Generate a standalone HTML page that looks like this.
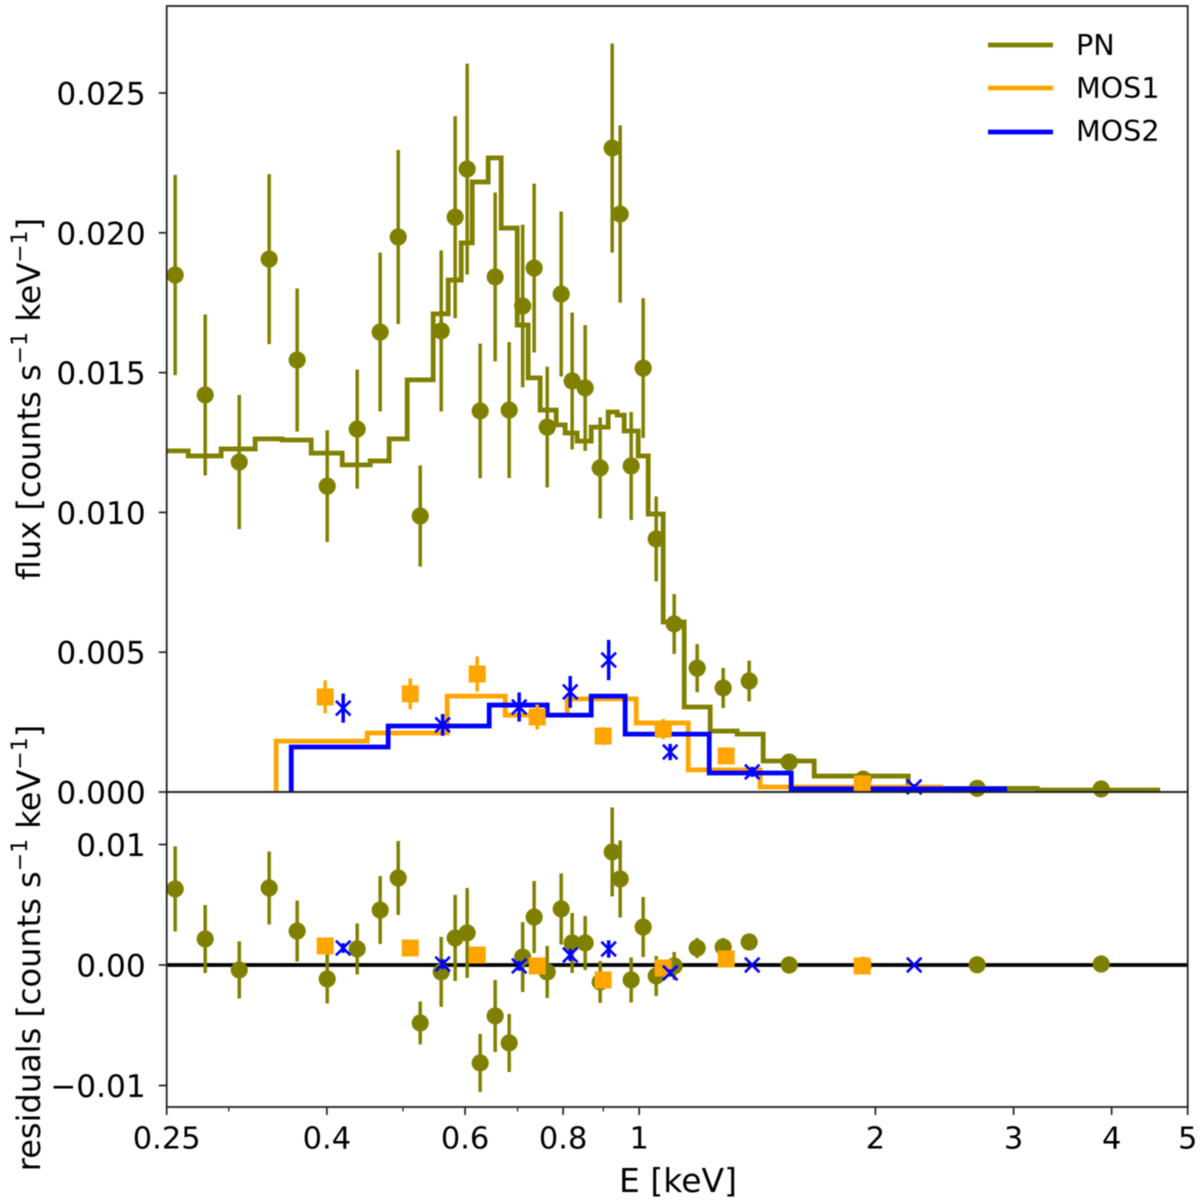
<!DOCTYPE html>
<html lang="en">
<head>
<meta charset="utf-8">
<title>Flux and residuals spectrum</title>
<style>
html,body{margin:0;padding:0;background:#fff;}
body{width:1200px;height:1202px;overflow:hidden;}
svg{display:block;filter:blur(0.4px);}
text{font-family:"DejaVu Sans","Liberation Sans",sans-serif;fill:#000;}
</style>
</head>
<body>
<svg id="chart" width="1200" height="1202" viewBox="0 0 1200 1202" xmlns="http://www.w3.org/2000/svg">
  <g id="layer-marks"></g>
  <g id="layer-axes"></g>
  <text x="678" y="1192" font-size="33" text-anchor="middle">E [keV]</text>
  <text transform="translate(40,399) rotate(-90)" font-size="32" text-anchor="middle">flux [counts s<tspan dy="-13" font-size="22">−1</tspan><tspan dy="13"> keV</tspan><tspan dy="-13" font-size="22">−1</tspan><tspan dy="13">]</tspan></text>
  <text transform="translate(40,948) rotate(-90)" font-size="32" text-anchor="middle">residuals [counts s<tspan dy="-13" font-size="22">−1</tspan><tspan dy="13"> keV</tspan><tspan dy="-13" font-size="22">−1</tspan><tspan dy="13">]</tspan></text>
  <g>
    <line x1="988" x2="1053" y1="45" y2="45" stroke="#808000" stroke-width="4.8"/>
    <text x="1076" y="55" font-size="28.6">PN</text>
    <line x1="988" x2="1053" y1="88" y2="88" stroke="#ffa500" stroke-width="4.8"/>
    <text x="1076" y="98" font-size="28.6">MOS1</text>
    <line x1="988" x2="1053" y1="132" y2="132" stroke="#0000ff" stroke-width="4.8"/>
    <text x="1076" y="141" font-size="28.6">MOS2</text>
  </g>
</svg>
<script>
// ---- PN data ----
const pnEnergy = [0.2563,0.2799,0.3093,0.3377,0.3666,0.4004,0.4372,0.4677,0.4931,0.5260,0.5594,0.5828,0.6037,0.6272,0.6554,0.6829,0.7105,0.7348,0.7635,0.7955,0.8215,0.8535,0.8919,0.9239,0.9458,0.9768,1.0118,1.0512,1.1082,1.1855,1.2795,1.3809,1.5529,1.9294,2.696,3.879];
const pnFlux = [0.01849,0.01420,0.01180,0.01906,0.01545,0.01094,0.01298,0.01645,0.01985,0.00987,0.01649,0.02056,0.02228,0.01363,0.01842,0.01366,0.01738,0.01874,0.01305,0.01781,0.01470,0.01445,0.01159,0.02303,0.02067,0.01166,0.01516,0.00905,0.00601,0.00443,0.00372,0.00397,0.00107,0.00046,0.00013,0.00011];
const pnFluxErr = [0.00358,0.00288,0.00240,0.00304,0.00256,0.00200,0.00213,0.00284,0.00311,0.00181,0.00288,0.00361,0.00377,0.00241,0.00302,0.00243,0.00291,0.00302,0.00216,0.00295,0.00245,0.00225,0.00181,0.00374,0.00317,0.00193,0.00250,0.00152,0.00107,0.00086,0.00072,0.00073,0.00029,0.00018,0.00004,0.00003];
const pnRes = [0.00631,0.00216,-0.00041,0.00639,0.00282,-0.00116,0.00133,0.00456,0.00722,-0.00481,-0.00058,0.00224,0.00266,-0.00813,-0.00423,-0.00647,0.00066,0.00398,-0.00058,0.00465,0.00183,0.00183,-0.00141,0.00938,0.00714,-0.00124,0.00315,-0.00091,-0.00008,0.00141,0.00149,0.00191,0.00000,-0.00004,0.00002,0.00008];
const pnResErr = [0.00353,0.00282,0.00237,0.00303,0.00253,0.00203,0.00212,0.00282,0.00307,0.00178,0.00290,0.00357,0.00373,0.00241,0.00299,0.00241,0.00290,0.00299,0.00216,0.00295,0.00249,0.00224,0.00174,0.00369,0.00320,0.00187,0.00249,0.00166,0.00116,0.00083,0.00075,0.00066,0.00008,0.00004,0.00002,0.00002];
// ---- PN model histogram ----
const pnModelEdges = [0.25,0.2663,0.2933,0.3241,0.3508,0.3820,0.4184,0.4542,0.4802,0.5063,0.5464,0.5710,0.5932,0.6127,0.6421,0.6671,0.6992,0.7220,0.7479,0.7839,0.8048,0.8337,0.8687,0.9131,0.9375,0.9570,0.9971,1.0268,1.0730,1.1413,1.2317,1.3331,1.4388,1.6711,2.2018,3.215,4.612];
const pnModelValues = [0.01220,0.01202,0.01227,0.01263,0.01259,0.01212,0.01170,0.01184,0.01263,0.01474,0.01710,0.01831,0.01964,0.02182,0.02268,0.02017,0.01670,0.01481,0.01366,0.01313,0.01284,0.01255,0.01305,0.01359,0.01348,0.01291,0.01202,0.00994,0.00608,0.00304,0.00218,0.00207,0.00111,0.00057,0.00013,0.00007];
// ---- MOS1 data ----
const mos1Energy = [0.3980,0.5108,0.6217,0.7414,0.8997,1.0730,1.2908,1.9238];
const mos1Flux = [0.00340,0.00351,0.00422,0.00268,0.00200,0.00225,0.00129,0.00029];
const mos1FluxErr = [0.00059,0.00055,0.00063,0.00045,0.00032,0.00036,0.00025,0.00010];
const mos1Res = [0.00158,0.00141,0.00083,-0.00008,-0.00124,-0.00025,0.00050,-0.00008];
const mos1ResErr = [0.00040,0.00040,0.00040,0.00040,0.00040,0.00040,0.00030,0.00010];
const mos1ModelEdges = [0.3447,0.4502,0.5693,0.6750,0.8096,0.9913,1.1547,1.4262,2.4400];
const mos1ModelValues = [0.00182,0.00211,0.00343,0.00275,0.00333,0.00247,0.00079,0.00018];
// ---- MOS2 data ----
const mos2Energy = [0.4196,0.5618,0.7032,0.8168,0.9144,1.0953,1.3932,2.2408];
const mos2Flux = [0.00300,0.00240,0.00304,0.00358,0.00472,0.00143,0.00072,0.00018];
const mos2FluxErr = [0.00052,0.00039,0.00052,0.00057,0.00072,0.00029,0.00018,0.00010];
const mos2Res = [0.00141,0.00008,-0.00008,0.00083,0.00133,-0.00066,0.00000,0.00000];
const mos2ResErr = [0.00040,0.00040,0.00040,0.00050,0.00072,0.00030,0.00010,0.00005];
const mos2ModelEdges = [0.3603,0.4788,0.6440,0.7635,0.8687,0.9597,1.2282,1.5621,2.9437];
const mos2ModelValues = [0.00161,0.00236,0.00311,0.00275,0.00343,0.00207,0.00068,0.00011];
// ---- Tick values and labels ----
const xMajorTicks = [0.25,0.4,0.6,0.8,1,2,3,4,5];
const xMajorLabels = ["0.25","0.4","0.6","0.8","1","2","3","4","5"];
const xMinorTicks = [0.3,0.5,0.7,0.9];
const fluxTicks = [0,0.005,0.010,0.015,0.020,0.025];
const fluxTickLabels = ["0.000","0.005","0.010","0.015","0.020","0.025"];
const resTicks = [-0.01,0,0.01];
const resTickLabels = ["−0.01","0.00","0.01"];

const NS = "http://www.w3.org/2000/svg";
const marks = document.getElementById("layer-marks");
const axes = document.getElementById("layer-axes");
const plotLeft = 166.7, plotRight = 1187.7, plotTop = 6, plotMid = 792, plotBottom = 1107;

function xScale(e){ return plotLeft + (plotRight - plotLeft) * Math.log(e / 0.25) / Math.log(5 / 0.25); }
function yFlux(v){ return plotMid - v * 27960; }
function yRes(v){ return 965 - v * 12050; }

function make(tag, attrs, parent){
  const el = document.createElementNS(NS, tag);
  for (const k in attrs) el.setAttribute(k, attrs[k]);
  parent.appendChild(el);
  return el;
}
function group(parent, name){
  const g = make("g", {}, parent);
  
  
  return g;
}
function drawErrorBars(parent, xs, ys, errs, yFn, color, width, name){
  const g = group(parent, name);
  xs.forEach(function(e, i){
    const el = make("line", {x1:xScale(e), x2:xScale(e), y1:yFn(ys[i]-errs[i]), y2:yFn(ys[i]+errs[i]), stroke:color, "stroke-width":width}, g);
    
    
  });
}
function drawCircles(parent, xs, ys, yFn, color, name){
  const g = group(parent, name);
  xs.forEach(function(e, i){
    const el = make("circle", {cx:xScale(e), cy:yFn(ys[i]), r:8.6, fill:color}, g);
    
    
  });
}
function drawSquares(parent, xs, ys, yFn, color, name){
  const g = group(parent, name);
  xs.forEach(function(e, i){
    const el = make("rect", {x:xScale(e)-8.5, y:yFn(ys[i])-8.5, width:17, height:17, fill:color}, g);
    
    
  });
}
function drawCrosses(parent, xs, ys, yFn, color, name){
  const g = group(parent, name);
  xs.forEach(function(e, i){
    const cx = xScale(e), cy = yFn(ys[i]), s = 7.3;
    const el = make("path", {d:"M"+(cx-s)+" "+(cy-s)+"L"+(cx+s)+" "+(cy+s)+"M"+(cx-s)+" "+(cy+s)+"L"+(cx+s)+" "+(cy-s), stroke:color, "stroke-width":2.6, fill:"none"}, g);
    
    
  });
}
function drawStep(parent, edges, values, color, fromZero, name){
  let d = "M" + xScale(edges[0]) + " " + (fromZero ? yFlux(0) : yFlux(values[0]));
  values.forEach(function(v, i){
    d += "L" + xScale(edges[i]) + " " + yFlux(v) + "L" + xScale(edges[i+1]) + " " + yFlux(v);
  });
  const el = make("path", {d:d, stroke:color, "stroke-width":4.8, fill:"none", "stroke-linejoin":"miter"}, parent);
  
  
}

// Top panel marks
const topPanel = group(marks, 'flux-panel');
drawErrorBars(topPanel, pnEnergy, pnFlux, pnFluxErr, yFlux, "#808000", 3.5, 'pn-flux-error-bars');
drawCircles(topPanel, pnEnergy, pnFlux, yFlux, "#808000", 'pn-flux-points');
drawStep(topPanel, pnModelEdges, pnModelValues, "#808000", false, 'pn-model-line');
drawStep(topPanel, mos1ModelEdges, mos1ModelValues, "#ffa500", true, 'mos1-model-line');
drawStep(topPanel, mos2ModelEdges, mos2ModelValues, "#0000ff", true, 'mos2-model-line');
drawErrorBars(topPanel, mos1Energy, mos1Flux, mos1FluxErr, yFlux, "#ffa500", 3.5, 'mos1-flux-error-bars');
drawSquares(topPanel, mos1Energy, mos1Flux, yFlux, "#ffa500", 'mos1-flux-points');
drawErrorBars(topPanel, mos2Energy, mos2Flux, mos2FluxErr, yFlux, "#0000ff", 3.5, 'mos2-flux-error-bars');
drawCrosses(topPanel, mos2Energy, mos2Flux, yFlux, "#0000ff", 'mos2-flux-points');

// Bottom panel marks
const bottomPanel = group(marks, 'residuals-panel');
const zeroLine = make("line", {x1:plotLeft, x2:plotRight, y1:yRes(0), y2:yRes(0), stroke:"#000", "stroke-width":3.8}, bottomPanel);


drawErrorBars(bottomPanel, pnEnergy, pnRes, pnResErr, yRes, "#808000", 3.5, 'pn-residual-error-bars');
drawCircles(bottomPanel, pnEnergy, pnRes, yRes, "#808000", 'pn-residual-points');
drawErrorBars(bottomPanel, mos1Energy, mos1Res, mos1ResErr, yRes, "#ffa500", 3.5, 'mos1-residual-error-bars');
drawSquares(bottomPanel, mos1Energy, mos1Res, yRes, "#ffa500", 'mos1-residual-points');
drawErrorBars(bottomPanel, mos2Energy, mos2Res, mos2ResErr, yRes, "#0000ff", 3.5, 'mos2-residual-error-bars');
drawCrosses(bottomPanel, mos2Energy, mos2Res, yRes, "#0000ff", 'mos2-residual-points');

// Frames
const frameTop = make("rect", {x:plotLeft, y:plotTop, width:plotRight-plotLeft, height:plotMid-plotTop, fill:"none", stroke:"#222", "stroke-width":1.8}, axes);


const frameBottom = make("rect", {x:plotLeft, y:plotMid, width:plotRight-plotLeft, height:plotBottom-plotMid, fill:"none", stroke:"#222", "stroke-width":1.8}, axes);



// X ticks
xMajorTicks.forEach(function(t, i){
  const x = xScale(t);
  const tick = make("line", {x1:x, x2:x, y1:plotBottom, y2:plotBottom+8, stroke:"#222", "stroke-width":1.7}, axes);
  
  
  const lab = make("text", {x:x, y:1148.5, "font-size":30.5, "text-anchor":"middle"}, axes);
  lab.textContent = xMajorLabels[i];
  
  
});
xMinorTicks.forEach(function(t){
  const x = xScale(t);
  const tick = make("line", {x1:x, x2:x, y1:plotBottom, y2:plotBottom+4.5, stroke:"#222", "stroke-width":1.3}, axes);
  
  
});
// Y ticks
function drawYTicks(ticks, labels, yFn, tickName, labelName){
  ticks.forEach(function(t, i){
    const y = yFn(t);
    const tick = make("line", {x1:plotLeft-8, x2:plotLeft, y1:y, y2:y, stroke:"#222", "stroke-width":1.7}, axes);
    
    
    const lab = make("text", {x:plotLeft-21, y:y+11.5, "font-size":31.2, "text-anchor":"end"}, axes);
    lab.textContent = labels[i];
    
    
  });
}
drawYTicks(fluxTicks, fluxTickLabels, yFlux, 'flux-y-tick', 'flux-y-tick-label');
drawYTicks(resTicks, resTickLabels, yRes, 'residual-y-tick', 'residual-y-tick-label');
</script>
</body>
</html>
